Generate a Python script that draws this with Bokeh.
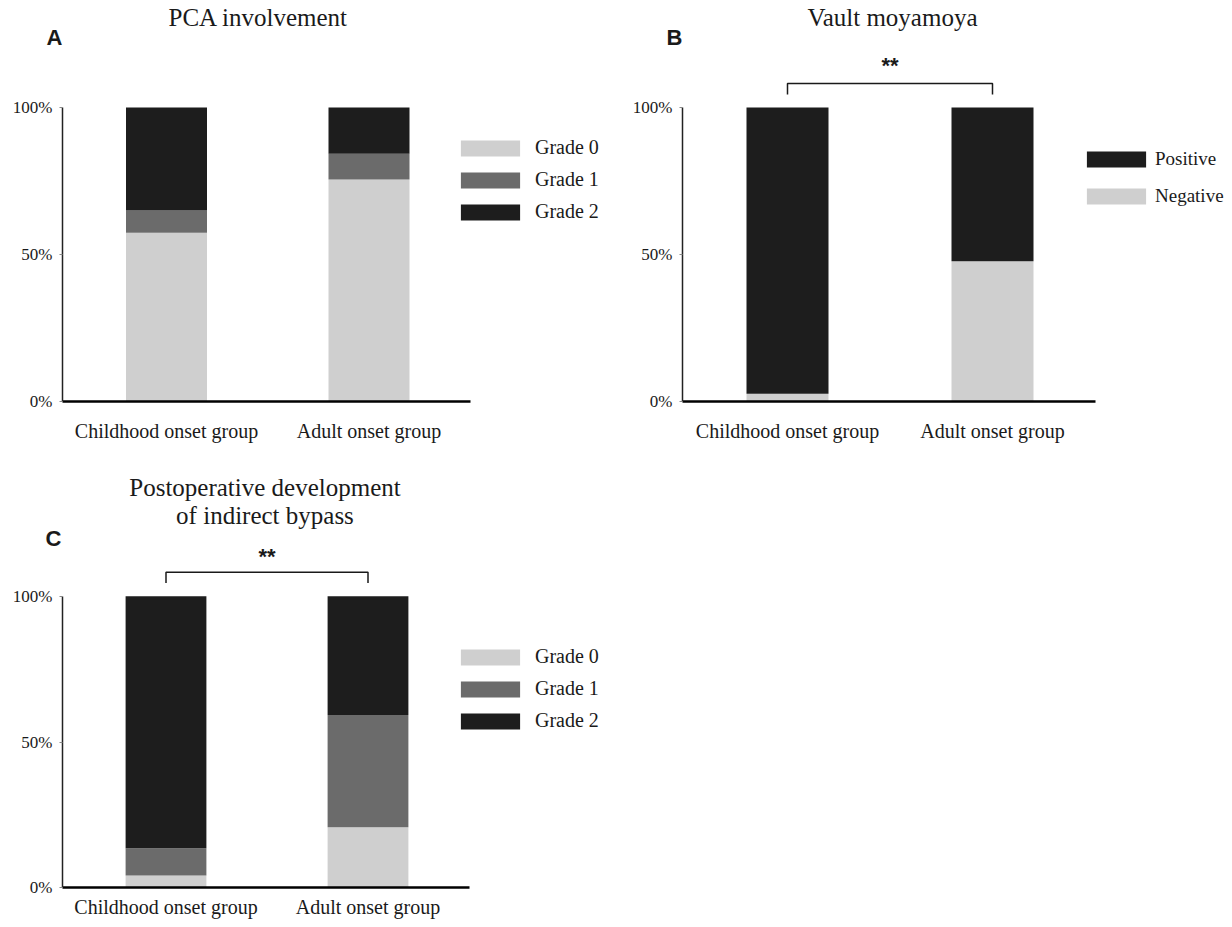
from bokeh.plotting import figure
from bokeh.models import (ColumnDataSource, Legend, LegendItem, Label, LinearAxis,
                          FixedTicker, PrintfTickFormatter, Range1d)
from bokeh.layouts import row, column
from bokeh.embed import file_html
from bokeh.resources import INLINE

# ---------------- data ----------------
groups = ["Childhood onset group", "Adult onset group"]
grade_labels = ["Grade 0", "Grade 1", "Grade 2"]

pca_grade0 = [57.4, 75.5]
pca_grade1 = [7.6, 8.8]
pca_grade2 = [35.0, 15.7]

vault_labels = ["Positive", "Negative"]
vault_negative = [2.6, 47.7]
vault_positive = [97.4, 52.3]

bypass_grade0 = [4.2, 20.8]
bypass_grade1 = [9.4, 38.5]
bypass_grade2 = [86.4, 40.7]

y_ticks = [0, 50, 100]

# ---------------- style ----------------
LIGHT = "#cfcfcf"
MID = "#6b6b6b"
DARK = "#1d1d1d"
INK = "#1a1a1a"
SERIF = "Liberation Serif"
SANS = "Liberation Sans"
BAR_W = 0.4


def make_panel(width, height, zero_px, first_center, axis_px, x_px, y_px, xlab_standoff):
    """Frame fills the whole figure; axes are placed with fixed_location."""
    x_start = 1 - first_center / x_px
    x_end = x_start + width / x_px
    axis_x = 1 - (first_center - axis_px) / x_px
    y_end = zero_px / y_px
    y_start = -(height - zero_px) / y_px
    p = figure(width=width, height=height, title=None, toolbar_location=None,
               output_backend="svg", x_axis_location=None, y_axis_location=None,
               x_range=Range1d(x_start, x_end), y_range=Range1d(y_start, y_end),
               min_border_left=0, min_border_bottom=0,
               min_border_top=0, min_border_right=0)
    p.outline_line_color = None
    p.xgrid.visible = False
    p.ygrid.visible = False
    p.background_fill_color = "white"
    p.border_fill_color = "white"

    xs = list(range(1, len(groups) + 1))
    xax = LinearAxis(fixed_location=0, ticker=FixedTicker(ticks=xs))
    xax.major_label_overrides = {x: g for x, g in zip(xs, groups)}
    xax.bounds = (axis_x, 2.5)
    xax.axis_line_width = 2.6
    xax.axis_line_color = "black"
    xax.major_tick_out = 0
    xax.major_tick_in = 0
    xax.minor_tick_out = 0
    xax.minor_tick_in = 0
    xax.major_label_text_font = SERIF
    xax.major_label_text_font_size = "20px"
    xax.major_label_text_color = INK
    xax.major_label_standoff = xlab_standoff
    p.add_layout(xax, "below")

    yax = LinearAxis(fixed_location=axis_x, ticker=FixedTicker(ticks=y_ticks),
                     formatter=PrintfTickFormatter(format="%d%%"))
    yax.bounds = (0, 100)
    yax.axis_line_width = 1.5
    yax.axis_line_color = "#222222"
    yax.major_tick_out = 3
    yax.major_tick_in = 0
    yax.major_tick_line_color = "#888888"
    yax.minor_tick_out = 0
    yax.minor_tick_in = 0
    yax.major_label_text_font = SERIF
    yax.major_label_text_font_size = "17px"
    yax.major_label_text_color = INK
    yax.major_label_standoff = 7
    p.add_layout(yax, "left")
    return p, xs


def add_legend(p, items, loc, spacing, standoff=8, font="20px"):
    leg = Legend(items=items, location=loc, orientation="vertical")
    leg.glyph_width = 74
    leg.glyph_height = 20
    leg.label_height = 20
    leg.spacing = spacing
    leg.padding = 0
    leg.margin = 0
    leg.label_standoff = standoff
    leg.border_line_color = None
    leg.background_fill_alpha = 0
    leg.label_text_font = SERIF
    leg.label_text_font_size = font
    leg.label_text_color = INK
    leg.label_text_baseline = "middle"
    p.add_layout(leg, "center")


def add_text(p, x, y, txt, font=SERIF, size="25px", style="normal", align="center"):
    p.add_layout(Label(x=x, y=y, text=txt, text_font=font, text_font_size=size,
                       text_font_style=style, text_align=align,
                       text_baseline="alphabetic", text_color=INK))


def add_bracket(p, xs, y_low, y_high, star_y):
    p.line(x=[xs[0], xs[0], xs[1], xs[1]], y=[y_low, y_high, y_high, y_low],
           line_color=INK, line_width=1.5)
    add_text(p, (xs[0] + xs[1]) / 2, star_y, "**", font=SANS, size="22px", style="bold")


# ---------------- panel A ----------------
pA, xs = make_panel(620, 463, 401, 166, 62, 202.5, 2.94, 18)
srcA = ColumnDataSource(dict(x=xs, g0=pca_grade0, g1=pca_grade1, g2=pca_grade2))
rA = pA.vbar_stack(["g0", "g1", "g2"], x="x", width=BAR_W, color=[LIGHT, MID, DARK],
                   line_color=None, source=srcA)
add_legend(pA, [LegendItem(label=l, renderers=[r]) for l, r in zip(grade_labels, rA)],
           (453, 62 + 178), 9)
add_text(pA, 1.454, 130.6, "PCA involvement")
add_text(pA, 0.4074, 123.8, "A", font=SANS, size="22px", style="bold", align="left")

# ---------------- panel B ----------------
pB, xs = make_panel(610, 463, 401, 167, 62, 205.0, 2.94, 18)
srcB = ColumnDataSource(dict(x=xs, neg=vault_negative, pos=vault_positive))
rB = pB.vbar_stack(["neg", "pos"], x="x", width=BAR_W, color=[LIGHT, DARK],
                   line_color=None, source=srcB)
add_legend(pB, [LegendItem(label=vault_labels[0], renderers=[rB[1]]),
                LegendItem(label=vault_labels[1], renderers=[rB[0]])],
           (459, 62 + 194), 15, standoff=2, font="19px")
add_text(pB, 1.512, 130.6, "Vault moyamoya")
add_text(pB, 0.4098, 123.8, "B", font=SANS, size="22px", style="bold", align="left")
add_bracket(pB, xs, 104.4, 108.2, 114.3)

# ---------------- panel C ----------------
pC, xs = make_panel(620, 462, 424.3, 165.5, 62, 202.0, 2.916, 8)
srcC = ColumnDataSource(dict(x=xs, g0=bypass_grade0, g1=bypass_grade1, g2=bypass_grade2))
rC = pC.vbar_stack(["g0", "g1", "g2"], x="x", width=BAR_W, color=[LIGHT, MID, DARK],
                   line_color=None, source=srcC)
add_legend(pC, [LegendItem(label=l, renderers=[r]) for l, r in zip(grade_labels, rC)],
           (453, 38 + 155), 9)
add_text(pC, 1.49, 137.3, "Postoperative development")
add_text(pC, 1.49, 127.7, "of indirect bypass")
add_text(pC, 0.4035, 119.8, "C", font=SANS, size="22px", style="bold", align="left")
add_bracket(pC, xs, 104.5, 108.2, 113.6)

layout = column(row(pA, pB), pC)
open("out.html", "w").write(file_html(layout, INLINE))
